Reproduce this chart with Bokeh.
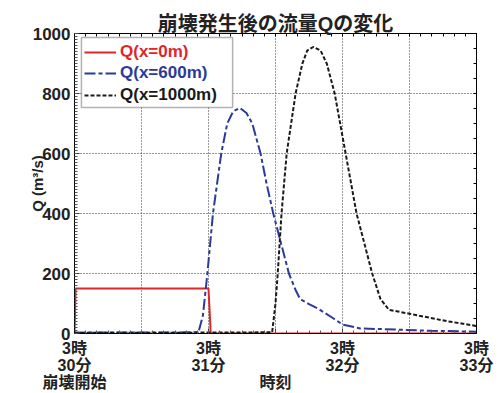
from bokeh.plotting import figure
from bokeh.models import (Range1d, FixedTicker, LinearAxis, Legend, LegendItem,
                          BoxAnnotation)
from bokeh.embed import file_html
from bokeh.resources import INLINE

# ---- data (time in seconds after 3:30:00, Q in m^3/s) ----
t_x0 = [0, 0.5, 60, 61, 180]
q_x0 = [0, 150, 150, 0, 0]

t_x600 = [0, 30, 55.5, 57.5, 58.7, 59.5, 62, 65.7, 68.4, 71, 74, 77, 79.6, 83.3,
          86, 89, 92.5, 96, 99, 101, 105, 109, 116, 120, 128, 144, 160, 180]
q_x600 = [3, 3, 4, 60, 143, 200, 400, 600, 700, 740, 752, 735, 700, 600,
          500, 400, 300, 200, 145, 115, 98, 83, 50, 30, 17, 13, 9, 6]

t_x1000 = [0, 60, 88.5, 90, 91, 92.7, 95, 99, 102, 104.2, 106.9, 110.2, 113,
           116.5, 121.4, 126.3, 133.3, 137, 140.8, 150.5, 166.9, 180]
q_x1000 = [2, 3, 4, 100, 200, 400, 600, 800, 899, 943, 955, 943, 899,
           800, 600, 400, 200, 115, 79, 65, 41, 25]

x_tick_values = [0, 60, 90, 120, 180]
x_tick_labels = ["3時\n30分\n崩壊開始", "3時\n31分", " \n \n時刻", "3時\n32分", "3時\n33分"]
y_tick_values = [0, 200, 400, 600, 800, 1000]

series_names = ["Q(x=0m)", "Q(x=600m)", "Q(x=1000m)"]
series_colors = ["#e0262a", "#2b3a9a", "#1a1a1a"]

FONT = "Liberation Sans, Noto Sans CJK JP"

p = figure(width=504, height=393, output_backend="svg", toolbar_location=None,
           x_range=Range1d(0, 180), y_range=Range1d(0, 1000),
           title="崩壊発生後の流量Qの変化",
           min_border_left=74, min_border_right=28, min_border_top=33,
           min_border_bottom=0)
p.title.align = "center"
p.title.text_font = FONT
p.title.text_font_size = "20px"
p.title.text_font_style = "bold"
p.title.text_color = "#222222"
p.title.offset = -6
p.title.standoff = -2

p.background_fill_color = "white"
p.border_fill_color = "white"
p.outline_line_color = "black"
p.outline_line_width = 1

xa = p.xaxis[0]
xa.ticker = FixedTicker(ticks=x_tick_values, minor_ticks=list(range(0, 181, 5)))
xa.major_label_overrides = {v: s for v, s in zip(x_tick_values, x_tick_labels)}

ya = p.yaxis[0]
ya.ticker = FixedTicker(ticks=y_tick_values, minor_ticks=list(range(0, 1001, 10)))
ya.axis_label = "Q (m³/s)"
ya.axis_label_text_font = FONT
ya.axis_label_text_font_style = "bold"
ya.axis_label_text_font_size = "15px"
ya.axis_label_text_color = "#222222"
ya.axis_label_standoff = -16

for ax in (xa, ya):
    ax.major_label_text_font = FONT
    ax.major_label_text_font_style = "bold"
    ax.major_label_text_color = "#222222"
    ax.major_tick_in = 5
    ax.major_tick_out = 0
    ax.minor_tick_in = 3
    ax.minor_tick_out = 0
    ax.axis_line_color = "black"
    ax.major_tick_line_color = "#333333"
    ax.minor_tick_line_color = "#555555"
xa.major_label_text_font_size = "16px"
xa.major_label_text_line_height = 1.0
ya.major_label_text_font_size = "17px"
xa.major_label_standoff = 6
ya.major_label_standoff = 4

top = LinearAxis(ticker=FixedTicker(ticks=[], minor_ticks=list(range(0, 181, 5))),
                 major_label_text_font_size="0px", major_label_standoff=0,
                 major_tick_in=0, major_tick_out=0, minor_tick_in=3, minor_tick_out=0)
right = LinearAxis(ticker=FixedTicker(ticks=[], minor_ticks=list(range(0, 1001, 50))),
                   major_label_text_font_size="0px", major_label_standoff=0,
                   major_tick_in=0, major_tick_out=0, minor_tick_in=3, minor_tick_out=0)
p.add_layout(top, "above")
p.add_layout(right, "right")

for g, tk in ((p.xgrid[0], [30, 60, 90, 120, 150]), (p.ygrid[0], [200, 400, 600, 800])):
    g.ticker = FixedTicker(ticks=tk)
    g.grid_line_color = "#333333"
    g.grid_line_dash = "1 2"
    g.grid_line_width = 1

r0 = p.line(t_x0, q_x0, line_color=series_colors[0], line_width=2)
r1 = p.line(t_x600, q_x600, line_color=series_colors[1], line_width=2,
            line_dash="11 3 4 3")
r2 = p.line(t_x1000, q_x1000, line_color=series_colors[2], line_width=2,
            line_dash="4 2")

box = BoxAnnotation(left=3.1, right=70.8, top=987, bottom=753,
                    fill_color="white", fill_alpha=1.0,
                    line_color="black", line_width=1.5)
p.add_layout(box)

ys = [271, 250, 228]
for r, name, col, yy in zip([r0, r1, r2], series_names, series_colors, ys):
    leg = Legend(items=[LegendItem(label=name, renderers=[r])],
                 location=(10, yy), orientation="vertical",
                 label_text_color=col, label_text_font=FONT,
                 label_text_font_style="bold", label_text_font_size="17px",
                 glyph_width=32, glyph_height=20, label_height=20,
                 label_standoff=4, padding=0, spacing=0, margin=0,
                 border_line_alpha=0, background_fill_alpha=0)
    p.add_layout(leg)

open("out.html", "w").write(file_html(p, INLINE))
